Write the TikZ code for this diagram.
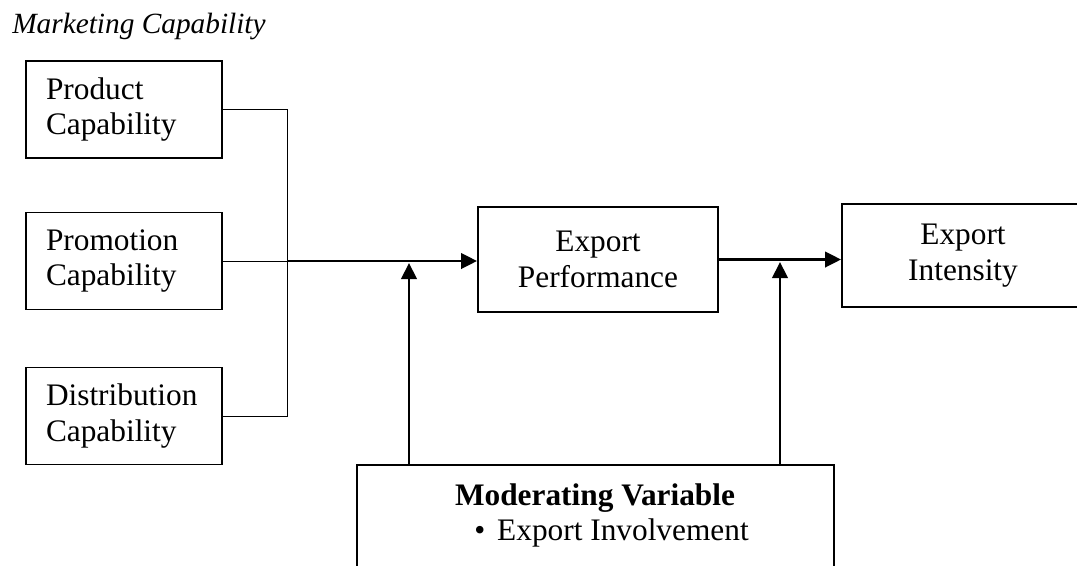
\documentclass[tikz,border=0pt]{standalone}
\usepackage{fontspec}
\setmainfont{Liberation Serif}
\usetikzlibrary{arrows.meta}
\begin{document}
\begin{tikzpicture}[x=0.75pt,y=-0.75pt,
  box/.style={draw,line width=1.4pt,inner sep=0pt,font=\fontsize{23.5}{26.5}\selectfont},
  leftbox/.style={box,minimum width=147pt,minimum height=72.75pt,text width=117pt,align=left},
  midbox/.style={box,align=center},
  link/.style={line width=0.75pt},
  arr/.style={line width=2.2pt,-{Triangle[length=12pt,width=11.5pt]}},
  txt/.style={inner sep=0pt,font=\fontsize{23.5}{26.5}\selectfont}]
\useasboundingbox (0,0) rectangle (1077,565);
\node[inner sep=0pt,anchor=base west,font=\fontsize{22}{26}\itshape] (title) at (12,33) {Marketing Capability};
\node[leftbox] (prod) at (124,109.5) {Product\\Capability};
\node[leftbox] (prom) at (124,261) {Promotion\\Capability};
\node[leftbox] (dist) at (124,416) {Distribution\\Capability};
\node[midbox,minimum width=180pt,minimum height=78.75pt] (ep) at (598,259.5) {Export\\Performance};
\node[midbox,minimum width=181.5pt,minimum height=77.25pt] (ei) at (963,255.5) {Export\\Intensity};
\node[draw,line width=1.4pt,minimum width=357.75pt,minimum height=90pt,inner sep=0pt] (mod) at (595.5,525) {};
\node[txt,anchor=base,font=\fontsize{23.5}{26.5}\bfseries] (modt) at (595,505) {Moderating Variable};
\node[txt,anchor=base west] (modb) at (474,540) {\textbullet\hspace{9pt}Export Involvement};
\coordinate (j) at (287,261);
\coordinate (a1) at (409,263);
\coordinate (a2) at (780,262);
\draw[link] (prod.east) -| (j);
\draw[link] (dist.east) -| (j);
\draw[link] (prom.east) -- (j);
\draw[arr] (j) -- (j -| ep.west);
\draw[arr] (ep.east) -- (ep.east -| ei.west);
\draw[arr] (a1 |- mod.north) -- (a1);
\draw[arr] (a2 |- mod.north) -- (a2);
\end{tikzpicture}
\end{document}
